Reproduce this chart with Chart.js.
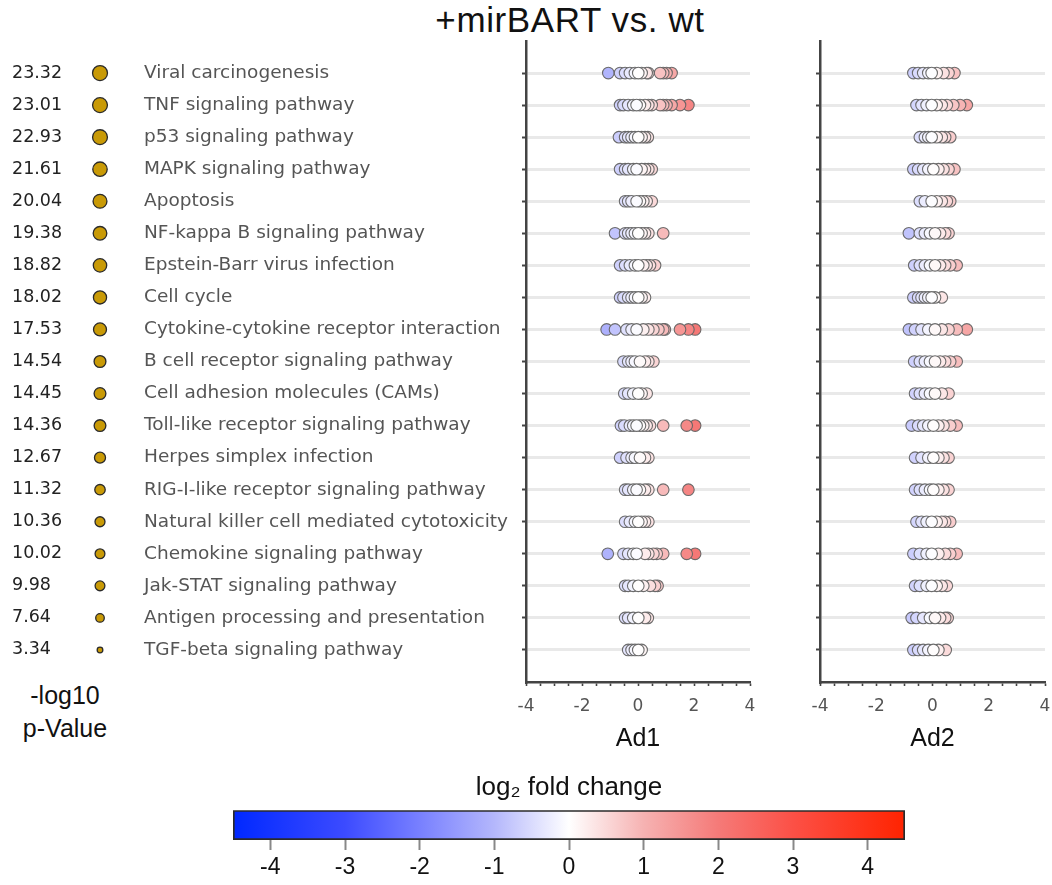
<!DOCTYPE html>
<html>
<head>
<meta charset="utf-8">
<script src="https://cdn.jsdelivr.net/npm/chart.js@4.4.1/dist/chart.umd.min.js"></script>
<style>
  html, body { margin: 0; padding: 0; background: #fff; }
  #wrap { position: relative; width: 1052px; height: 885px; overflow: hidden; background: #fff; }
  canvas { position: absolute; }
  .txt { position: absolute; font-family: "Liberation Sans", Arial, sans-serif; color: #111; white-space: nowrap; }
</style>
</head>
<body>
<div id="wrap">
  <div class="txt" style="left:0;width:1140px;top:0;text-align:center;font-size:35px;letter-spacing:0.6px;">+mirBART vs. wt</div>
  <div class="txt" style="left:0;width:130px;top:679px;text-align:center;font-size:25px;line-height:33px;">-log10<br>p-Value</div>
  <canvas id="left" width="520" height="780" style="left:0;top:0;"></canvas>
  <canvas id="ad1" width="300" height="780" style="left:470px;top:0;"></canvas>
  <canvas id="ad2" width="310" height="780" style="left:764px;top:0;"></canvas>
  <canvas id="cbar" width="740" height="130" style="left:200px;top:755px;"></canvas>
</div>
<script>
// KEGG pathways, top to bottom
const pathways = [
  'Viral carcinogenesis',
  'TNF signaling pathway',
  'p53 signaling pathway',
  'MAPK signaling pathway',
  'Apoptosis',
  'NF-kappa B signaling pathway',
  'Epstein-Barr virus infection',
  'Cell cycle',
  'Cytokine-cytokine receptor interaction',
  'B cell receptor signaling pathway',
  'Cell adhesion molecules (CAMs)',
  'Toll-like receptor signaling pathway',
  'Herpes simplex infection',
  'RIG-I-like receptor signaling pathway',
  'Natural killer cell mediated cytotoxicity',
  'Chemokine signaling pathway',
  'Jak-STAT signaling pathway',
  'Antigen processing and presentation',
  'TGF-beta signaling pathway'
];

// -log10 p-value per pathway
const pValues = [23.32, 23.01, 22.93, 21.61, 20.04, 19.38, 18.82, 18.02, 17.53, 14.54,
                 14.45, 14.36, 12.67, 11.32, 10.36, 10.02, 9.98, 7.64, 3.34];

// log2 fold change of the pathway genes, Ad1
const ad1 = [
  [-1.06, -0.64, -0.46, -0.29, -0.11, 0.01, 0.13, 0.31, 0.37, 0.79, 0.90, 1.02, 1.20],
  [-0.64, -0.52, -0.35, -0.17, -0.05, 0.07, 0.25, 0.37, 0.49, 0.79, 0.90, 1.02, 1.20, 1.50, 1.80],
  [-0.68, -0.46, -0.35, -0.23, -0.11, 0.01, 0.13, 0.25, 0.35],
  [-0.64, -0.46, -0.35, -0.17, -0.05, 0.13, 0.25, 0.37, 0.49],
  [-0.46, -0.35, -0.23, -0.05, 0.07, 0.19, 0.31, 0.49],
  [-0.82, -0.46, -0.35, -0.23, -0.11, 0.01, 0.13, 0.25, 0.37, 0.90],
  [-0.64, -0.46, -0.29, -0.11, 0.01, 0.19, 0.31, 0.43, 0.61],
  [-0.64, -0.52, -0.35, -0.23, -0.11, 0.01, 0.13, 0.25],
  [-1.12, -0.82, -0.41, -0.23, -0.05, 0.19, 0.37, 0.55, 0.73, 0.90, 0.96, 1.50, 1.80, 2.04],
  [-0.52, -0.35, -0.23, -0.11, 0.07, 0.25, 0.37, 0.55],
  [-0.49, -0.35, -0.17, 0.01, 0.13, 0.31],
  [-0.61, -0.49, -0.29, -0.17, -0.05, 0.07, 0.19, 0.31, 0.43, 0.90, 1.74, 2.04],
  [-0.64, -0.41, -0.23, -0.11, 0.07, 0.25, 0.37],
  [-0.46, -0.35, -0.17, -0.05, 0.07, 0.25, 0.37, 0.90, 1.80],
  [-0.46, -0.29, -0.11, 0.01, 0.13, 0.25, 0.37],
  [-1.08, -0.52, -0.35, -0.17, -0.05, 0.25, 0.37, 0.55, 0.67, 0.90, 1.74, 2.04],
  [-0.46, -0.35, -0.17, 0.01, 0.19, 0.43, 0.61, 0.70],
  [-0.46, -0.35, -0.17, 0.01, 0.25, 0.35],
  [-0.35, -0.23, -0.11, 0.01, 0.13]
];

// log2 fold change of the pathway genes, Ad2
const ad2 = [
  [-0.68, -0.51, -0.33, -0.15, -0.03, 0.15, 0.39, 0.57, 0.78],
  [-0.57, -0.39, -0.21, -0.03, 0.15, 0.33, 0.51, 0.74, 0.98, 1.22],
  [-0.45, -0.27, -0.15, -0.03, 0.15, 0.33, 0.45, 0.63],
  [-0.68, -0.51, -0.33, -0.15, 0.03, 0.21, 0.39, 0.57, 0.78],
  [-0.45, -0.27, -0.03, 0.15, 0.33, 0.51, 0.63],
  [-0.84, -0.45, -0.27, -0.09, 0.09, 0.27, 0.45, 0.57],
  [-0.65, -0.45, -0.27, -0.09, 0.09, 0.27, 0.45, 0.63, 0.86],
  [-0.68, -0.51, -0.39, -0.27, -0.15, -0.03, 0.09, 0.33],
  [-0.84, -0.62, -0.39, -0.15, 0.09, 0.33, 0.57, 0.86, 1.22],
  [-0.65, -0.45, -0.27, -0.09, 0.09, 0.27, 0.45, 0.63, 0.86],
  [-0.62, -0.45, -0.27, -0.09, 0.09, 0.33, 0.57],
  [-0.74, -0.51, -0.33, -0.15, 0.03, 0.21, 0.39, 0.63, 0.86],
  [-0.62, -0.39, -0.15, 0.03, 0.21, 0.39, 0.57],
  [-0.62, -0.45, -0.27, -0.09, 0.03, 0.21, 0.39, 0.57],
  [-0.57, -0.39, -0.21, -0.03, 0.15, 0.33, 0.45, 0.63],
  [-0.68, -0.45, -0.21, -0.03, 0.21, 0.45, 0.63, 0.86],
  [-0.62, -0.45, -0.21, -0.03, 0.15, 0.33, 0.51],
  [-0.74, -0.57, -0.33, -0.09, 0.09, 0.27, 0.45, 0.54],
  [-0.68, -0.51, -0.33, -0.15, 0.03, 0.21, 0.47]
];

// colour bar range and tick labels
const colorbarRange = [-4.5, 4.5];
const colorbarTicks = [-4, -3, -2, -1, 0, 1, 2, 3, 4];
const panelTicks = [-4, -2, 0, 2, 4];

// blue - white - red colour map for log2 fold change
const cmapStops = [
  [-4.5, [0, 40, 255]], [-3, [60, 75, 255]], [-2, [120, 128, 255]], [-1, [180, 183, 252]],
  [0, [255, 255, 255]],
  [1, [246, 178, 178]], [2, [245, 122, 120]], [3, [252, 80, 70]], [4.5, [255, 35, 0]]
];
function cmap(v) {
  if (v <= cmapStops[0][0]) return 'rgb(' + cmapStops[0][1].join(',') + ')';
  for (let k = 1; k < cmapStops.length; k++) {
    const [v1, c1] = cmapStops[k];
    const [v0, c0] = cmapStops[k - 1];
    if (v <= v1) {
      const t = (v - v0) / (v1 - v0);
      const c = c0.map((a, j) => Math.round(a + (c1[j] - a) * t));
      return 'rgb(' + c.join(',') + ')';
    }
  }
  return 'rgb(' + cmapStops[cmapStops.length - 1][1].join(',') + ')';
}

const isRow = v => v >= 0 && v < pathways.length && Math.abs(v - Math.round(v)) < 1e-6;
const common = { responsive: false, animation: false, devicePixelRatio: 1 };
const noPlugins = { legend: { display: false }, tooltip: { enabled: false } };
const TOP = 41, AXIS_H = 98;

// ---------- left block: p-values, bubbles, pathway names ----------
new Chart(document.getElementById('left'), {
  type: 'bubble',
  data: {
    datasets: [{
      data: pValues.map((p, i) => ({ x: 0, y: i, r: 1.55 * Math.sqrt(p) })),
      backgroundColor: '#c99a06',
      borderColor: '#2a2a2a',
      borderWidth: 1.3
    }]
  },
  options: {
    ...common,
    layout: { padding: { top: TOP, left: 12, right: 0, bottom: AXIS_H } },
    plugins: noPlugins,
    scales: {
      x: { type: 'linear', min: -1, max: 1, display: false },
      y: {
        type: 'linear', position: 'left', reverse: true, min: -1, max: 19,
        afterFit(s) { s.width = 73; },
        ticks: {
          stepSize: 1, autoSkip: false, crossAlign: 'far', padding: 0,
          color: '#222', font: { family: 'DejaVu Sans', size: 17.5 },
          callback: v => isRow(v) ? pValues[Math.round(v)].toFixed(2) : ''
        },
        grid: { display: false, drawTicks: false },
        border: { display: false }
      },
      yName: {
        type: 'linear', position: 'right', reverse: true, min: -1, max: 19,
        afterFit(s) { s.width = 405; },
        ticks: {
          stepSize: 1, autoSkip: false, padding: 29,
          color: '#555', font: { family: 'DejaVu Sans', size: 18.5 },
          callback: v => isRow(v) ? pathways[Math.round(v)] : ''
        },
        grid: { display: false, drawTicks: false },
        border: { display: false }
      }
    }
  }
});

// ---------- fold-change panels ----------
function panelPoints(values) {
  const pts = [];
  values.forEach((row, i) => row.forEach(v => pts.push({ x: v, y: i })));
  // genes closest to zero are drawn last, on top
  return pts.sort((a, b) => Math.abs(b.x) - Math.abs(a.x));
}

function panel(id, values, title, padRight) {
  return new Chart(document.getElementById(id), {
    type: 'scatter',
    data: {
      datasets: [{
        data: panelPoints(values),
        pointRadius: 5.8,
        pointBorderWidth: 1.1,
        pointBorderColor: 'rgba(100,100,100,0.95)',
        pointBackgroundColor: ctx => cmap(ctx.raw ? ctx.raw.x : 0)
      }]
    },
    options: {
      ...common,
      clip: false,
      layout: { padding: { top: TOP, right: padRight, left: 0, bottom: 0 } },
      plugins: noPlugins,
      scales: {
        x: {
          type: 'linear', min: -4, max: 4,
          afterFit(s) { s.height = AXIS_H; },
          ticks: {
            stepSize: 0.5, autoSkip: false, maxRotation: 0, padding: 10,
            color: '#555', font: { family: 'DejaVu Sans', size: 17 },
            callback: v => panelTicks.includes(v) ? String(v) : ''
          },
          grid: { drawOnChartArea: false, drawTicks: true, tickLength: 4, tickColor: '#444', tickWidth: 1.6 },
          border: { display: true, color: '#444', width: 2.5 },
          title: {
            display: true, text: title, color: '#111',
            font: { family: 'Liberation Sans', size: 25 },
            padding: { top: 4, bottom: 26 }
          }
        },
        y: {
          type: 'linear', reverse: true, min: -1, max: 19,
          afterFit(s) { s.width = 56; },
          ticks: { stepSize: 1, display: false },
          grid: {
            color: c => isRow(c.tick.value) ? 'rgba(0,0,0,0.085)' : 'rgba(0,0,0,0)',
            lineWidth: 3,
            drawTicks: true, tickLength: 4, tickWidth: 2,
            tickColor: c => isRow(c.tick.value) ? '#444' : 'rgba(0,0,0,0)'
          },
          border: { display: true, color: '#444', width: 2.5 }
        }
      }
    }
  });
}
panel('ad1', ad1, 'Ad1', 20);
panel('ad2', ad2, 'Ad2', 29);

// ---------- colour bar ----------
new Chart(document.getElementById('cbar'), {
  type: 'bar',
  data: {
    labels: ['log2FC'],
    datasets: [{
      data: [colorbarRange],
      backgroundColor: ctx => {
        const chart = ctx.chart;
        const xs = chart.scales && chart.scales.x;
        if (!chart.chartArea || !xs) return '#fff';
        const x0 = xs.getPixelForValue(colorbarRange[0]);
        const x1 = xs.getPixelForValue(colorbarRange[1]);
        const g = chart.ctx.createLinearGradient(x0, 0, x1, 0);
        cmapStops.forEach(([v, c]) => {
          g.addColorStop((v - colorbarRange[0]) / (colorbarRange[1] - colorbarRange[0]), 'rgb(' + c.join(',') + ')');
        });
        return g;
      },
      borderColor: '#2a2a2a',
      borderWidth: 2,
      borderSkipped: false,
      barPercentage: 1,
      categoryPercentage: 1
    }]
  },
  options: {
    ...common,
    indexAxis: 'y',
    layout: { padding: { left: 33, right: 35, top: 0, bottom: 0 } },
    plugins: {
      ...noPlugins,
      title: {
        display: true, text: 'log\u2082 fold change', color: '#111',
        font: { family: 'Liberation Sans', size: 26, weight: 'normal' },
        padding: { top: 17, bottom: 7 }
      }
    },
    scales: {
      x: {
        type: 'linear', min: colorbarRange[0], max: colorbarRange[1],
        afterBuildTicks(s) { s.ticks = colorbarTicks.map(v => ({ value: v })); },
        afterFit(s) { s.height = 45; },
        ticks: {
          padding: 4, color: '#111', font: { family: 'Liberation Sans', size: 23 },
          callback: v => String(v)
        },
        grid: { drawOnChartArea: false, tickLength: 10, tickColor: '#888', tickWidth: 2 },
        border: { display: false }
      },
      y: { display: false }
    }
  }
});
</script>
</body>
</html>
